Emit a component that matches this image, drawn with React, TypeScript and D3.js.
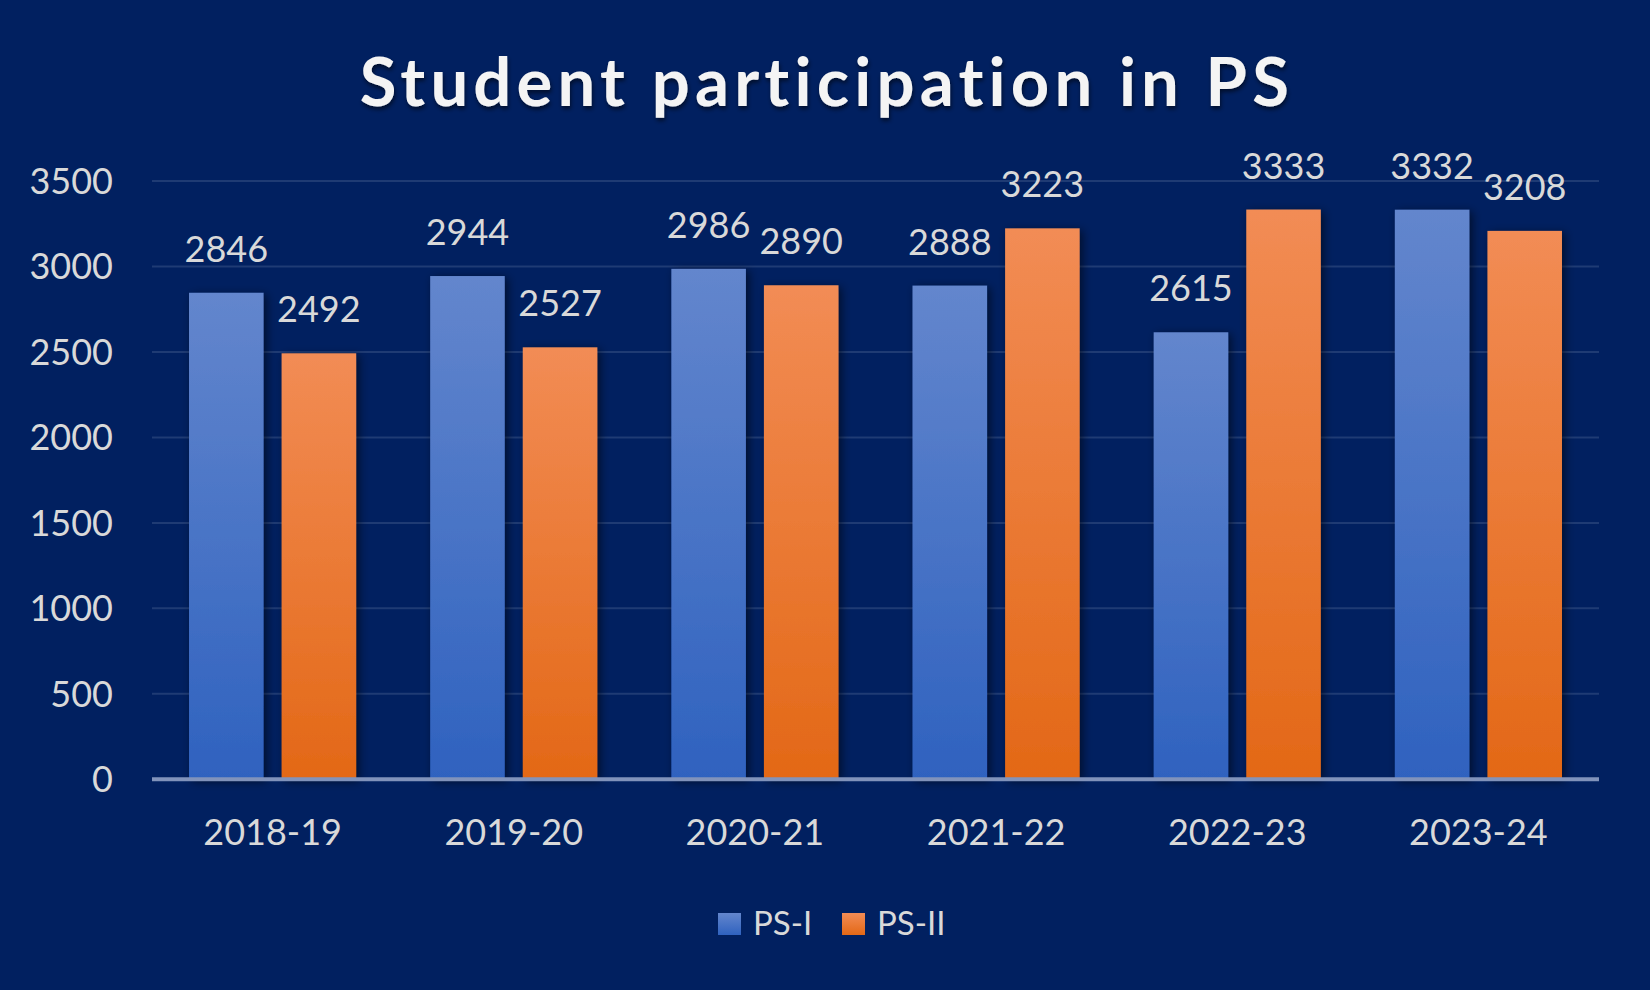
import React from "react";
import * as d3 from "d3";

const categories = ["2018-19", "2019-20", "2020-21", "2021-22", "2022-23", "2023-24"];
const seriesNames = ["PS-I", "PS-II"];
const psI = [2846, 2944, 2986, 2888, 2615, 3332];
const psII = [2492, 2527, 2890, 3223, 3333, 3208];
const yTicks = [0, 500, 1000, 1500, 2000, 2500, 3000, 3500];
const titleText = "Student participation in PS";

const W = 1650;
const H = 990;
const FONT = "Lato, 'Open Sans', sans-serif";

export default function App() {
  const plotLeft = 152;
  const plotRight = 1599;
  const x0 = d3.scaleBand<string>().domain(categories).range([plotLeft, plotRight]).padding(0);
  const bw0 = x0.bandwidth();
  const x1 = d3
    .scaleBand<string>()
    .domain(seriesNames)
    .range([bw0 * 0.1535, bw0 * (1 - 0.1535)])
    .paddingInner(0.195)
    .paddingOuter(0);
  const y = d3.scaleLinear().domain([0, 3500]).range([779.3, 181]);

  const seriesData = [psI, psII];
  const gradIds = ["gradBlue", "gradOrange"];
  const textColor = "#d9d9d9";

  return (
    <svg width={W} height={H} style={{ display: "block", position: "absolute", left: 0, top: 0 }}>
      <defs>
        <linearGradient id="gradBlue" x1="0" y1="0" x2="0" y2="1">
          <stop offset="0%" stopColor="#6386cd" />
          <stop offset="100%" stopColor="#2f62bf" />
        </linearGradient>
        <linearGradient id="gradOrange" x1="0" y1="0" x2="0" y2="1">
          <stop offset="0%" stopColor="#f28c55" />
          <stop offset="100%" stopColor="#e36816" />
        </linearGradient>
        <filter id="barShadow" x="-30%" y="-10%" width="160%" height="120%">
          <feDropShadow dx="3" dy="2" stdDeviation="5" floodColor="#000" floodOpacity="0.55" />
        </filter>
        <filter id="titleShadow" x="-10%" y="-30%" width="120%" height="160%">
          <feDropShadow dx="1" dy="3" stdDeviation="2" floodColor="#000" floodOpacity="0.55" />
        </filter>
      </defs>
      <rect x={0} y={0} width={W} height={H} fill="#012060" />

      <text
        x={W / 2 + 2}
        y={106}
        textAnchor="middle"
        fontFamily={FONT}
        fontWeight={700}
        fontSize={67}
        letterSpacing={5.2}
        fill="#f4f4f4"
        filter="url(#titleShadow)"
      >
        {titleText}
      </text>

      {yTicks.filter((t) => t > 0).map((t) => (
        <line key={"g" + t} x1={plotLeft} x2={plotRight} y1={y(t)} y2={y(t)} stroke="#1f3b74" strokeWidth={2} />
      ))}
      {yTicks.map((t) => (
        <text
          key={"yt" + t}
          x={113}
          y={y(t)}
          dy="0.36em"
          textAnchor="end"
          fontFamily={FONT}
          fontSize={36}
          fill={textColor}
        >
          {t}
        </text>
      ))}

      {categories.map((c, i) => (
        <g key={c} transform={`translate(${x0(c)},0)`}>
          {seriesNames.map((s, si) => {
            const v = seriesData[si][i];
            const bx = x1(s)!;
            const bw = x1.bandwidth();
            return (
              <g key={s}>
                <rect
                  x={bx}
                  y={y(v)}
                  width={bw}
                  height={y(0) - y(v)}
                  fill={`url(#${gradIds[si]})`}
                  filter="url(#barShadow)"
                />
                <text
                  x={bx + bw / 2}
                  y={y(v) - 31}
                  textAnchor="middle"
                  fontFamily={FONT}
                  fontSize={36}
                  fill={textColor}
                >
                  {v}
                </text>
              </g>
            );
          })}
          <text
            x={bw0 / 2}
            y={845}
            textAnchor="middle"
            fontFamily={FONT}
            fontSize={36}
            fill={textColor}
          >
            {c}
          </text>
        </g>
      ))}

      <line x1={plotLeft} x2={plotRight} y1={y(0)} y2={y(0)} stroke="#8193bb" strokeWidth={4} />

      {seriesNames.map((s, si) => {
        const lx = [718, 842][si];
        return (
          <g key={"lg" + s}>
            <rect x={lx} y={913} width={23} height={22} fill={`url(#${gradIds[si]})`} />
            <text x={lx + 35} y={935} fontFamily={FONT} fontSize={33} fill={textColor}>
              {s}
            </text>
          </g>
        );
      })}
    </svg>
  );
}
